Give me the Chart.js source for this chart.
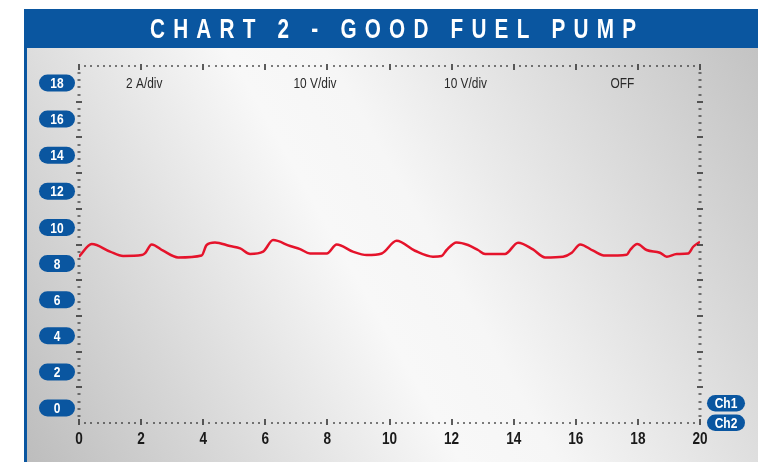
<!DOCTYPE html>
<html>
<head>
<meta charset="utf-8">
<title>Chart 2 - Good Fuel Pump</title>
<script src="https://cdn.jsdelivr.net/npm/chart.js@4.4.1/dist/chart.umd.min.js"></script>
<style>
  html, body { margin: 0; padding: 0; background: #fff; }
  #scope { display: block; }
</style>
</head>
<body>
<canvas id="scope" width="758" height="462"></canvas>
<script>
/* ── Données ───────────────────────────────────────────────── */
const timeValues = [0, 0.41, 1.0, 1.42, 2.02, 2.13, 2.34, 2.71, 3.19, 3.95, 4.11, 4.38, 4.86, 5.19,
  5.51, 5.93, 6.25, 6.8, 7.12, 7.44, 7.98, 8.3, 8.82, 9.27, 9.75, 10.23, 10.82, 11.4, 11.68,
  11.84, 12.16, 12.53, 12.85, 13.08, 13.72, 14.14, 14.62, 15.01, 15.59, 15.87, 16.14, 16.56,
  16.95, 17.64, 17.75, 17.98, 18.28, 18.71, 18.93, 19.25, 19.62, 19.78, 20.0];
const ch1Values = [8.38, 9.08, 8.66, 8.42, 8.47, 8.58, 9.06, 8.71, 8.34, 8.45, 9.03, 9.17, 8.97, 8.84,
  8.53, 8.66, 9.30, 8.97, 8.80, 8.56, 8.56, 9.06, 8.66, 8.47, 8.56, 9.26, 8.71, 8.38, 8.42,
  8.75, 9.17, 9.03, 8.75, 8.53, 8.53, 9.15, 8.78, 8.34, 8.38, 8.60, 9.06, 8.71,
  8.44, 8.49, 8.75, 9.08, 8.75, 8.60, 8.38, 8.53, 8.56, 8.93, 9.21];
const xTicks = [0, 2, 4, 6, 8, 10, 12, 14, 16, 18, 20];
const yTicks = [0, 2, 4, 6, 8, 10, 12, 14, 16, 18];
const settingLabels = ['2 A/div', '10 V/div', '10 V/div', 'OFF'];
const settingPositions = [2.1, 7.6, 12.45, 17.5];
const channelLabels = ['Ch1', 'Ch2'];

const TITLE = 'CHART 2 - GOOD FUEL PUMP';
const BLUE = '#0a56a0';
const FONT = "'Liberation Sans', Arial, sans-serif";

function pill(ctx, x, y, w, h) {
    const r = h / 2;
    ctx.beginPath();
    ctx.moveTo(x + r, y);
    ctx.lineTo(x + w - r, y);
    ctx.arc(x + w - r, y + r, r, -Math.PI / 2, Math.PI / 2);
    ctx.lineTo(x + r, y + h);
    ctx.arc(x + r, y + r, r, Math.PI / 2, Math.PI * 1.5);
    ctx.closePath();
    ctx.fill();
}

// texte condensé : on écrase horizontalement une police normale
function narrowText(ctx, text, x, y, sx) {
    ctx.save();
    ctx.translate(x, y);
    ctx.scale(sx, 1);
    ctx.fillText(text, 0, 0);
    ctx.restore();
}

/* ── Fond, bandeau titre, cadre ────────────────────────────── */
const backdrop = {
    id: 'backdrop',
    beforeDraw(chart) {
        const ctx = chart.ctx;
        ctx.save();
        ctx.fillStyle = '#fff';
        ctx.fillRect(0, 0, 758, 462);
        const g = ctx.createLinearGradient(27, 462, 758, 48);
        g.addColorStop(0, '#bdbdbd');
        g.addColorStop(0.45, '#f8f8f8');
        g.addColorStop(0.55, '#f6f6f6');
        g.addColorStop(1, '#c3c3c3');
        ctx.fillStyle = g;
        ctx.fillRect(24, 48, 734, 414);
        ctx.fillStyle = BLUE;
        ctx.fillRect(24, 9, 734, 39);
        ctx.fillRect(24, 48, 3, 414);

        ctx.fillStyle = '#fff';
        ctx.font = 'bold 28px ' + FONT;
        ctx.textBaseline = 'middle';
        ctx.textAlign = 'left';
        const sx = 0.74;
        const natural = ctx.measureText(TITLE).width * sx;
        const ls = (486 - natural) / (TITLE.length - 1);
        let x = 150;
        for (const ch of TITLE) {
            narrowText(ctx, ch, x, 30, sx);
            x += ctx.measureText(ch).width * sx + ls;
        }
        ctx.restore();
    }
};

/* ── Graduations d'oscilloscope et étiquettes ──────────────── */
const scopeFrame = {
    id: 'scopeFrame',
    afterDraw(chart) {
        const ctx = chart.ctx;
        const a = chart.chartArea;
        const xs = chart.scales.x;
        const ys = chart.scales.y;
        ctx.save();
        ctx.fillStyle = '#2a2a2a';

        // bords horizontaux : 10 pas mineurs par 2 unités
        for (let i = 0; i <= 100; i++) {
            const px = Math.round(xs.getPixelForValue(i * 0.2));
            if (i % 10 === 0) {
                ctx.fillRect(px - 0.75, a.top - 2, 1.5, 6);
                ctx.fillRect(px - 0.75, a.bottom - 4, 1.5, 6);
            } else {
                ctx.fillRect(px - 0.6, a.top - 1, 1.2, 2);
                ctx.fillRect(px - 0.6, a.bottom - 1, 1.2, 2);
            }
        }
        // bords verticaux : 10 divisions de 5
        const h = a.bottom - a.top;
        for (let j = 1; j < 50; j++) {
            const py = Math.round(a.top + h * j / 50);
            if (j % 5 === 0) {
                ctx.fillRect(a.left - 3, py - 0.75, 6, 1.5);
                ctx.fillRect(a.right - 3, py - 0.75, 6, 1.5);
            } else {
                ctx.fillRect(a.left - 1.5, py - 0.6, 3, 1.2);
                ctx.fillRect(a.right - 1.5, py - 0.6, 3, 1.2);
            }
        }

        ctx.textAlign = 'center';
        ctx.textBaseline = 'middle';

        // étiquettes Y dans des pastilles bleues
        yTicks.forEach(v => {
            const py = ys.getPixelForValue(v);
            ctx.fillStyle = BLUE;
            pill(ctx, 39, py - 8.5, 36, 17);
            ctx.fillStyle = '#fff';
            ctx.font = 'bold 15px ' + FONT;
            narrowText(ctx, String(v), 57, py + 1, 0.8);
        });

        // étiquettes X
        ctx.fillStyle = '#1a1a1a';
        ctx.font = 'bold 17px ' + FONT;
        xTicks.forEach(v => {
            narrowText(ctx, String(v), xs.getPixelForValue(v), 439, 0.8);
        });

        // réglages
        ctx.fillStyle = '#2a2a2a';
        ctx.font = '14px ' + FONT;
        settingLabels.forEach((t, i) => {
            narrowText(ctx, t, xs.getPixelForValue(settingPositions[i]), 84, 0.85);
        });

        // pastilles de voies
        channelLabels.forEach((t, i) => {
            const top = 395 + i * 19.5;
            ctx.fillStyle = BLUE;
            pill(ctx, 707, top, 38, 16.5);
            ctx.fillStyle = '#fff';
            ctx.font = 'bold 15px ' + FONT;
            narrowText(ctx, t, 726, top + 9, 0.8);
        });
        ctx.restore();
    }
};

const points = timeValues.map((t, i) => ({ x: t, y: ch1Values[i] }));

new Chart(document.getElementById('scope'), {
    type: 'line',
    data: {
        datasets: [{
            label: 'Ch1',
            data: points,
            borderColor: '#e5132b',
            borderWidth: 2.5,
            pointRadius: 0,
            tension: 0.4,
            cubicInterpolationMode: 'monotone',
            fill: false
        }]
    },
    options: {
        responsive: false,
        animation: false,
        layout: { padding: { left: 79, right: 58, top: 66, bottom: 39 } },
        scales: {
            x: { type: 'linear', min: 0, max: 20, display: false },
            y: { type: 'linear', min: -0.83, max: 18.94, display: false }
        },
        plugins: { legend: { display: false }, tooltip: { enabled: false } }
    },
    plugins: [backdrop, scopeFrame]
});
</script>
</body>
</html>
